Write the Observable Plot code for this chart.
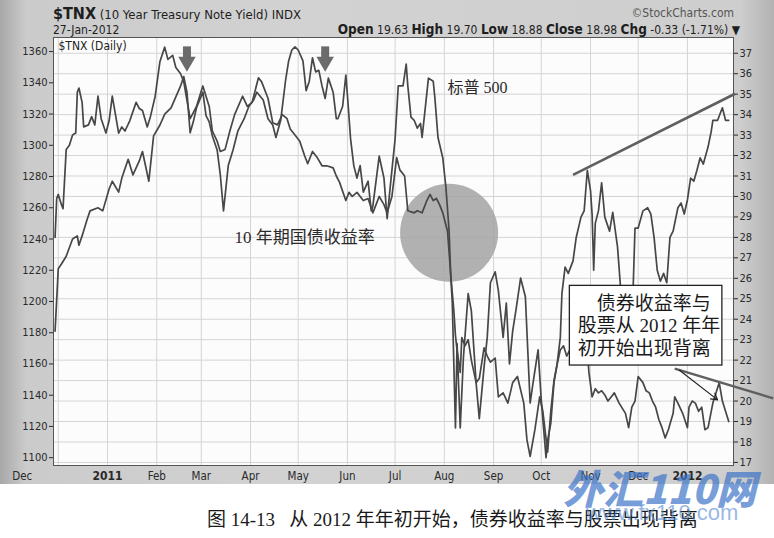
<!DOCTYPE html>
<html>
<head>
<meta charset="utf-8">
<script src="https://cdn.jsdelivr.net/npm/d3@7"></script>
<script src="https://cdn.jsdelivr.net/npm/@observablehq/plot@0.6"></script>
<style>
  body { margin: 0; background: #fff; }
  #wrap { position: relative; width: 774px; height: 538px; overflow: hidden; background: #fff;
    font-family: "Liberation Sans Narrow", "DejaVu Sans Condensed", "Liberation Sans", sans-serif; }
  #panel { position: absolute; left: 0; top: 0; width: 774px; height: 484px;
    background: linear-gradient(to right, #a8a8a8 0px, #cbcbcb 26px, #d2d2d2 300px, #cecece 740px, #b2b2b2 774px); }
  #chart { position: absolute; left: 0; top: 0; }
  .hdr { position: absolute; color: #1e1e1e; white-space: nowrap; }
  .cap { position: absolute; left: 207px; top: 504px; font-size: 19px; color: #1a1a1a; white-space: nowrap;
    font-family: "Liberation Serif", "Noto Sans CJK SC", serif; }
  .wm { position: absolute; white-space: nowrap; font-family: "Noto Sans CJK SC", sans-serif;
    font-weight: 900; font-style: italic; }
</style>
</head>
<body>
<div id="wrap">
  <div id="panel"></div>
  <div id="chart"></div>
  <div class="hdr" style="left:53px;top:4px;font-size:13px"><b style="font-size:16px">$TNX</b> (10 Year Treasury Note Yield) INDX</div>
  <div class="hdr" style="right:40px;top:6px;font-size:12px;color:#555">&copy;StockCharts.com</div>
  <div class="hdr" style="left:53px;top:23px;font-size:12px">27-Jan-2012</div>
  <div class="hdr" style="right:34px;top:21px;font-size:12px"><b style="font-size:13.5px">Open</b> 19.63 <b style="font-size:13.5px">High</b> 19.70 <b style="font-size:13.5px">Low</b> 18.88 <b style="font-size:13.5px">Close</b> 18.98 <b style="font-size:13.5px">Chg</b> -0.33 (-1.71%) &#9660;</div>
  <div class="cap">图 14-13&nbsp;&nbsp;&nbsp;从 2012 年年初开始，债券收益率与股票出现背离</div>
  <div class="wm" style="left:586px;top:500px;font-size:22px;font-weight:400;font-style:normal;color:rgba(80,135,210,0.6);font-family:'Liberation Sans',sans-serif">www.fx110.com</div>
  <div class="wm" style="left:563px;top:458px;font-size:40px;color:rgba(60,115,200,0.7)">外汇110网</div>
</div>
<script>
// S&P 500 (left axis)
const spxDates = [
  "2010-11-29","2010-12-01","2010-12-03","2010-12-06","2010-12-10","2010-12-13","2010-12-14","2010-12-16","2010-12-19","2010-12-21","2010-12-26","2010-12-29",
  "2011-01-02","2011-01-04","2011-01-08","2011-01-10","2011-01-14","2011-01-17","2011-01-21","2011-01-23","2011-01-27","2011-01-30",
  "2011-02-03","2011-02-06","2011-02-10","2011-02-13","2011-02-16","2011-02-18","2011-02-20","2011-02-22","2011-02-24","2011-02-26","2011-02-28",
  "2011-03-02","2011-03-04","2011-03-06","2011-03-08","2011-03-11","2011-03-13","2011-03-15","2011-03-18","2011-03-21","2011-03-24","2011-03-28","2011-03-31",
  "2011-04-03","2011-04-05","2011-04-09","2011-04-12","2011-04-15","2011-04-17","2011-04-20","2011-04-23","2011-04-25","2011-04-27","2011-04-29",
  "2011-05-01","2011-05-04","2011-05-06","2011-05-08","2011-05-10","2011-05-12","2011-05-14","2011-05-16","2011-05-18","2011-05-20","2011-05-23","2011-05-25","2011-05-26","2011-05-29","2011-05-31",
  "2011-06-01","2011-06-03","2011-06-05","2011-06-07","2011-06-09","2011-06-11","2011-06-14","2011-06-16","2011-06-17","2011-06-21","2011-06-24","2011-06-26","2011-06-28",
  "2011-07-01","2011-07-03","2011-07-06","2011-07-08","2011-07-09","2011-07-11","2011-07-13","2011-07-15","2011-07-17","2011-07-18","2011-07-20","2011-07-22","2011-07-25","2011-07-26","2011-07-28","2011-07-31",
  "2011-08-02","2011-08-04","2011-08-05","2011-08-06","2011-08-08","2011-08-09","2011-08-11","2011-08-13","2011-08-16","2011-08-18","2011-08-21","2011-08-23","2011-08-26","2011-08-28","2011-08-30",
  "2011-09-02","2011-09-04","2011-09-07","2011-09-09","2011-09-11","2011-09-13","2011-09-15","2011-09-18","2011-09-21","2011-09-24","2011-09-26","2011-09-29",
  "2011-10-01","2011-10-04","2011-10-05","2011-10-07","2011-10-09","2011-10-11","2011-10-13","2011-10-14","2011-10-16","2011-10-18","2011-10-21","2011-10-23","2011-10-26","2011-10-28","2011-10-30",
  "2011-11-01","2011-11-02","2011-11-03","2011-11-04","2011-11-06","2011-11-08","2011-11-10","2011-11-13","2011-11-15","2011-11-18","2011-11-21","2011-11-25","2011-11-27","2011-11-29",
  "2011-12-01","2011-12-04","2011-12-07","2011-12-09","2011-12-11","2011-12-13","2011-12-15","2011-12-17","2011-12-19","2011-12-21","2011-12-23","2011-12-26","2011-12-28","2011-12-30",
  "2012-01-01","2012-01-03","2012-01-05","2012-01-07","2012-01-09","2012-01-11","2012-01-14","2012-01-16","2012-01-17","2012-01-20","2012-01-23","2012-01-25","2012-01-27"
];
const spxValues = [
  1181,1221,1224,1229,1240,1242,1236,1242,1252,1258,1260,1258,
  1272,1277,1270,1279,1291,1281,1290,1296,1277,1306,
  1313,1320,1324,1331,1338,1344,1334,1308,1315,1324,1329,
  1334,1319,1315,1306,1297,1281,1258,1287,1297,1309,1317,1325,
  1329,1334,1329,1317,1313,1305,1316,1341,1354,1361,1363,
  1361,1354,1335,1341,1356,1347,1348,1338,1330,1343,1334,1317,1317,1325,1345,
  1332,1304,1287,1279,1287,1270,1277,1258,1261,1293,1279,1253,1274,
  1304,1338,1338,1352,1338,1318,1316,1311,1314,1305,1324,1343,1341,1331,1305,1292,
  1273,1245,1217,1199,1119,1173,1119,1164,1205,1194,1148,1125,1158,1177,1212,
  1219,1207,1177,1199,1160,1181,1194,1215,1203,1135,1149,1169,
  1137,1100,1111,1122,1148,1160,1177,1205,1222,1218,1226,1241,1254,1258,1284,
  1271,1256,1220,1250,1258,1276,1254,1245,1257,1235,1194,1162,1181,1247,
  1247,1258,1260,1256,1241,1220,1213,1218,1212,1241,1245,1260,1263,1256,
  1265,1279,1277,1284,1292,1288,1299,1309,1316,1316,1324,1316,1316
];

// $TNX 10 year yield x10 (right axis)
const tnxDates = [
  "2010-11-29","2010-11-30","2010-12-01","2010-12-03","2010-12-04","2010-12-06","2010-12-08","2010-12-10","2010-12-12","2010-12-13","2010-12-14","2010-12-16","2010-12-17","2010-12-20","2010-12-22","2010-12-24","2010-12-26","2010-12-28","2010-12-31",
  "2011-01-02","2011-01-04","2011-01-06","2011-01-08","2011-01-10","2011-01-12","2011-01-15","2011-01-19","2011-01-21","2011-01-23","2011-01-26","2011-01-28","2011-01-31",
  "2011-02-03","2011-02-06","2011-02-08","2011-02-11","2011-02-13","2011-02-16","2011-02-18","2011-02-20","2011-02-22","2011-02-24","2011-02-26","2011-02-28",
  "2011-03-02","2011-03-04","2011-03-06","2011-03-08","2011-03-11","2011-03-13","2011-03-16","2011-03-19","2011-03-22","2011-03-27","2011-03-30",
  "2011-04-02","2011-04-06","2011-04-08","2011-04-12","2011-04-15","2011-04-18","2011-04-21","2011-04-24","2011-04-26","2011-04-29",
  "2011-05-02","2011-05-05","2011-05-07","2011-05-10","2011-05-13","2011-05-16","2011-05-19","2011-05-23","2011-05-25","2011-05-27","2011-05-31",
  "2011-06-02","2011-06-04","2011-06-07","2011-06-11","2011-06-14","2011-06-17","2011-06-21","2011-06-24","2011-06-26","2011-06-29",
  "2011-07-02","2011-07-04","2011-07-07","2011-07-09","2011-07-13","2011-07-15","2011-07-18","2011-07-21","2011-07-23","2011-07-25","2011-07-27","2011-07-29","2011-07-31",
  "2011-08-03","2011-08-05","2011-08-07","2011-08-08","2011-08-09","2011-08-11","2011-08-12","2011-08-14","2011-08-16","2011-08-18","2011-08-21","2011-08-23","2011-08-26","2011-08-28","2011-08-30",
  "2011-09-02","2011-09-04","2011-09-07","2011-09-10","2011-09-13","2011-09-16","2011-09-20","2011-09-22","2011-09-24","2011-09-27","2011-09-30",
  "2011-10-02","2011-10-05","2011-10-07","2011-10-09","2011-10-11","2011-10-13","2011-10-15","2011-10-17","2011-10-19","2011-10-22","2011-10-26","2011-10-29","2011-10-31",
  "2011-11-02","2011-11-04","2011-11-06","2011-11-08","2011-11-10","2011-11-12","2011-11-14","2011-11-16","2011-11-19","2011-11-23","2011-11-25","2011-11-27","2011-11-29",
  "2011-12-01","2011-12-04","2011-12-06","2011-12-08","2011-12-10","2011-12-12","2011-12-14","2011-12-16","2011-12-18","2011-12-20","2011-12-23","2011-12-24","2011-12-26","2011-12-29",
  "2012-01-01","2012-01-02","2012-01-04","2012-01-06","2012-01-08","2012-01-10","2012-01-12","2012-01-14","2012-01-17","2012-01-19","2012-01-21","2012-01-23","2012-01-25","2012-01-27"
];
const tnxValues = [
  28.0,29.9,30.1,29.6,29.4,32.3,32.5,33.0,33.1,35.1,35.3,34.6,33.4,33.5,33.9,33.5,34.9,33.8,33.1,
  33.7,34.9,34.0,33.1,33.4,33.2,33.7,34.6,34.3,34.2,33.4,33.9,34.9,
  36.6,37.3,36.7,36.9,36.3,36.0,35.6,34.7,33.8,34.1,34.4,34.9,
  35.4,34.9,34.4,33.2,32.7,32.2,32.3,33.2,34.0,34.9,34.4,
  34.6,35.8,35.6,34.8,33.6,33.5,34.0,33.8,33.3,33.0,
  32.7,32.0,31.6,32.2,31.9,31.5,31.5,31.4,31.0,30.7,29.8,
  30.2,30.0,30.2,29.8,29.9,29.2,30.0,29.6,29.2,30.0,
  31.9,31.3,31.0,29.3,29.2,29.3,29.2,29.8,30.1,29.8,29.9,29.6,29.2,
  28.3,26.2,24.4,23.2,22.5,21.4,23.1,22.7,23.0,22.0,20.9,21.1,22.6,22.2,21.9,
  22.1,20.2,20.4,19.9,20.9,21.2,19.9,18.1,17.3,18.6,20.2,
  19.5,17.5,19.5,21.0,21.8,22.5,22.7,22.2,22.5,23.5,23.9,23.5,21.4,
  20.2,20.6,20.4,20.5,20.3,20.0,20.2,20.4,19.9,19.4,18.7,19.7,20.0,
  21.2,20.9,20.5,20.4,20.0,19.7,19.1,18.7,18.2,18.6,19.4,20.2,19.9,19.4,
  18.7,19.7,20.0,19.9,19.5,19.7,18.6,18.7,19.9,20.4,20.9,20.0,19.5,19.0
];

const leftTicks = [1100,1120,1140,1160,1180,1200,1220,1240,1260,1280,1300,1320,1340,1360];
const rightTicks = [17,18,19,20,21,22,23,24,25,26,27,28,29,30,31,32,33,34,35,36,37];
const monthStarts = ["2010-12-01","2011-01-01","2011-02-01","2011-03-01","2011-04-01","2011-05-01","2011-06-01",
  "2011-07-01","2011-08-01","2011-09-01","2011-10-01","2011-11-01","2011-12-01","2012-01-01"];
const monthLabels = ["Dec","2011","Feb","Mar","Apr","May","Jun","Jul","Aug","Sep","Oct","Nov","Dec","2012"];

// annotations (in data coordinates)
const downArrows = [{date: "2011-02-20"}, {date: "2011-05-18"}];
const trendLines = [
  {x1: "2011-10-21", y1: 1281, x2: "2012-01-31", y2: 1333, w: 2.6},
  {x1: "2011-12-24", y1: 1157, x2: "2012-02-24", y2: 1138, w: 2.4}
];
const noteArrow = {x1: "2011-12-27", y1: 1156, x2: "2012-01-20", y2: 1137};
const noteBox = {x1: "2011-10-19", x2: "2012-01-23", y1: 1159, y2: 1210};
const noteText = {date: "2011-10-24", value: 1185, text: "\u3000债券收益率与\n股票从 2012 年年\n初开始出现背离"};
const labels = [
  {date: "2011-08-03", value: 1337, text: "标普 500", size: 16},
  {date: "2011-03-22", value: 1241, text: "10 年期国债收益率", size: 17}
];
const highlight = {date: "2011-08-04", value: 1244};

const D = (s) => new Date(s);
const spx = spxDates.map((d, i) => ({date: D(d), value: spxValues[i]}));
const tnx = tnxDates.map((d, i) => ({date: D(d), value: tnxValues[i]}));
const months = monthStarts.map((d, i) => ({date: D(d), label: monthLabels[i]}));

// right axis (yield) mapped onto the left axis scale
const y2 = d3.scaleLinear([16.85, 37.77], [1095, 1369]);

const serif = "'Liberation Serif','Noto Sans CJK SC',serif";
const lineColor = "#474747";
const labelOf = (d) => months.find((m) => +m.date === +d).label;
const isJan = (m) => m.date.getUTCMonth() === 0;

const plot = Plot.plot({
  width: 774,
  height: 484,
  marginTop: 37,
  marginBottom: 19,
  marginLeft: 53,
  marginRight: 41,
  style: {background: "transparent", fontFamily: "'Liberation Sans Narrow','DejaVu Sans Condensed',sans-serif", fontSize: "11px", color: "#2a2a2a"},
  x: {type: "utc", domain: [D("2010-11-28"), D("2012-01-30")]},
  y: {domain: [1095, 1369]},
  marks: [
    Plot.frame({fill: "#fcfcfc"}),
    Plot.ruleY(rightTicks, {y: y2, stroke: "#d4d4d4"}),
    Plot.ruleX(months, {x: "date", stroke: "#d4d4d4"}),
    Plot.dot([highlight], {x: (d) => D(d.date), y: "value", r: 49, fill: "#a3a3a3", fillOpacity: 0.85}),
    Plot.line(spx, {x: "date", y: "value", stroke: lineColor, strokeWidth: 1.7}),
    Plot.line(tnx, {x: "date", y: (d) => y2(d.value), stroke: lineColor, strokeWidth: 1.7}),
    Plot.frame({stroke: "#555"}),
    Plot.axisY(leftTicks, {anchor: "left", tickSize: 4, tickPadding: 2, tickFormat: (d) => String(d), label: null}),
    Plot.axisY(rightTicks, {anchor: "right", y: y2, tickFormat: (d) => String(d), tickSize: 4, tickPadding: 2, label: null}),
    // first "Dec" label sits left of the frame, as in the StockCharts layout
    Plot.axisX(months.slice(0, 1).map((m) => m.date),
      {tickSize: 0, tickPadding: 6, tickFormat: labelOf, label: null, fontSize: 11.5, dx: -36}),
    Plot.axisX(months.slice(1).filter((m) => !isJan(m)).map((m) => m.date),
      {tickSize: 0, tickPadding: 6, tickFormat: labelOf, label: null, fontSize: 11.5}),
    Plot.axisX(months.filter(isJan).map((m) => m.date),
      {tickSize: 0, tickPadding: 6, tickFormat: labelOf, label: null, fontSize: 12, fontWeight: "bold"}),
    Plot.text(["$TNX (Daily)"], {frameAnchor: "top-left", dx: 5, dy: 4, fontSize: 12, fill: "#222"}),
    // down arrows
    Plot.ruleX(downArrows, {x: (d) => D(d.date), y1: 1363, y2: 1356, stroke: "#6b6b6b", strokeWidth: 8}),
    Plot.dot(downArrows, {x: (d) => D(d.date), y: 1353.5, symbol: "triangle", rotate: 180, r: 6.5, fill: "#6b6b6b"}),
    // trend lines and note
    Plot.link(trendLines, {x1: (d) => D(d.x1), y1: "y1", x2: (d) => D(d.x2), y2: "y2", stroke: "#5f5f5f", strokeWidth: (d) => d.w}),
    Plot.arrow([noteArrow], {x1: (d) => D(d.x1), y1: "y1", x2: (d) => D(d.x2), y2: "y2", stroke: "#222", strokeWidth: 1.2, headLength: 9}),
    Plot.rect([noteBox], {x1: (d) => D(d.x1), x2: (d) => D(d.x2), y1: "y1", y2: "y2", fill: "#fff", stroke: "#222", strokeWidth: 1.3}),
    Plot.text([noteText], {x: (d) => D(d.date), y: "value", text: "text", textAnchor: "start", lineAnchor: "middle",
      lineHeight: 1.18, fontSize: 19, fontFamily: serif, fill: "#1a1a1a"}),
    Plot.text(labels, {x: (d) => D(d.date), y: "value", text: "text", textAnchor: "start", fontSize: (d) => d.size,
      fontFamily: serif, fill: "#2a2a2a"})
  ]
});

document.querySelector("#chart").append(plot);
</script>
</body>
</html>
